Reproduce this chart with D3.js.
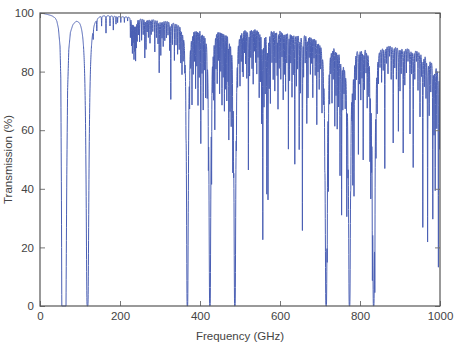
<!DOCTYPE html>
<html><head><meta charset="utf-8">
<script src="https://cdn.jsdelivr.net/npm/d3@7"></script>
<style>body{margin:0;background:#fff} text{font-family:"Liberation Sans",Arial,sans-serif;}</style>
</head><body><svg id="c" width="455" height="348"></svg>
<script>
const xTicks = [0, 200, 400, 600, 800, 1000];
const yTicks = [0, 20, 40, 60, 80, 100];

// continuum (upper envelope) of transmission, % vs GHz
const envFreq  = [0, 10, 20, 30, 38, 42, 46, 50, 52, 53.5, 54.5, 65, 67, 69, 72, 76, 82, 90, 100, 110, 125, 140, 150, 160, 180, 200, 230, 280, 320, 345, 360, 380, 400, 420, 440, 470, 500, 540, 570, 600, 640, 670, 700, 720, 740, 748, 760, 768, 780, 800, 825, 845, 880, 920, 960, 975, 990, 1000];
const envTrans = [100, 99.9, 99.6, 99.2, 98.5, 97.5, 95, 89, 78, 40, 0, 0, 45, 74, 88, 94, 96.8, 98.6, 99.6, 99.8, 100, 100, 100, 99.8, 99.4, 99, 98.8, 98.3, 97.9, 97.6, 97.6, 97.8, 97.6, 97.3, 97.2, 97, 96.8, 96.3, 95.8, 95.5, 94.8, 94, 93, 92, 91.3, 90, 86, 86, 89.5, 90.5, 90.3, 90.2, 89.7, 88.6, 87.2, 85.2, 84.5, 85.5];

// saturated oxygen lines (GHz) and their half widths (GHz)
const o2Freq  = [118.75, 368.5, 424.8, 487.2, 715.4, 773.8, 834.1];
const o2Width = [1.0, 0.65, 0.65, 0.65, 0.7, 0.7, 0.7];

// other absorption lines: centre (GHz) and minimum transmission (%)
const lineFreq = [
 133,142,154,165,175,183.3,190,194,202,211,219,
 226,229,231,233,235,237,239,241,243,246,249,254,258,262,265,268,271,275,278,282,287,291,295,298,
 302,305,308,312,316,320,324,327,331,336,340,344,348,352,355,358,362,365,
 371,374,377,380,383,386,389,392,395,398,402,405,408,411,414,418,421,
 429,432,434,437,440,443,446,449,452,455,458,461,464,467,470,472,475,478,482,484,
 491,494,497,500,503,506,508,511,514,517,521,524,527,530,533,536,539,542,545,548,551,554,557,560,563,567,570,573,576,
 580,583,587,590,593,595,598,602,605,608,611,614,617,621,624,627,630,633,637,641,644,648,651,656,659,663,667,670,673,676,679,
 682,685,688,692,695,698,701,705,709,712,
 718,721,724,727,730,733,737,740,743,746,750,754,757,760,763,767,770,
 777,780,782,785,788,791,796,799,802,805,808,811,815,818,822,825,827,829,831,837,
 840,843,846,850,854,858,862,866,870,874,878,883,887,891,896,900,903,908,912,916,920,925,929,933,937,941,945,950,954,957,
 961,965,969,973,977,982,985,988,992,996,999
];
const lineMin = [
 96.5,96,96.5,93.7,96,94.5,96.5,97,97,97,97.5,
 92,89.5,87,91,85,88,84.5,89,91,93,90.5,91,93,85,88,94,92,90,93,94,87,92,90,80,
 86,92,89,91,92,93,88,71,90,84.5,90,87,89,85,81.7,88,90,86,
 85,80,88,72,82,86,76,84,70,80,56.7,82,69,84,75,80,65.6,
 55.5,82,76,63,84,78,86,74,82,70,80,68,76,72,80,59,70,66,55.6,72,
 75,84,88,78,86,82,80,88,84,79,47,80,86,82,76.5,88,84,80,86,72,78,64,23,70,74,39,37,76,70,
 84,78,74,84,80,68,82,78,86,71,80,74,84,54,78,84,72,80,48.8,76,82,54,74,26,80,84,63,72,86,80,84,
 72,86,80,63,82,76,84,70,80,76,
 34,48,76,84,72,80,63,74,62,70,45.8,32,70,76,72,35,66,
 70,76,46,40,74,80,53,78,72,80,51,76,82,70,76,55,43,62,16,9,
 62,72,80,84,78,82,47.5,84,80,86,78,56,82,78,60,74,80,52.5,76,80,84,59,80,47.5,78,84,74,65,80,27,
 76,72,22,66,74,30,60,40,62,13.4,55
];

const W = 455, H = 348;
const x = d3.scaleLinear().domain([0, 1000]).range([40, 440]);
const y = d3.scaleLinear().domain([0, 100]).range([306, 13]);
const env = d3.scaleLinear().domain(envFreq).range(envTrans).clamp(true);

const lines = [];
o2Freq.forEach((f, i) => lines.push({f, w: o2Width[i], A: 12}));
lineFreq.forEach((f, i) => {
  const e = env(f), m = lineMin[i];
  if (m < e) lines.push({f, w: 0.35, A: Math.log(e / m)});
});

const freqs = d3.range(0, 1000.0001, 0.2).concat(lines.map(l => l.f)).sort((a, b) => a - b);
const data = freqs.map(f => {
  let tau = 0;
  for (const l of lines) {
    const d = f - l.f;
    tau += l.A * l.w * l.w / (d * d + l.w * l.w);
  }
  return [f, Math.max(0, Math.min(100, env(f) * Math.exp(-tau)))];
});

const svg = d3.select("#c");
svg.append("defs").append("clipPath").attr("id", "clip")
  .append("rect").attr("x", 40).attr("y", 12).attr("width", 400).attr("height", 295);

svg.append("path").datum(data)
  .attr("clip-path", "url(#clip)")
  .attr("fill", "none").attr("stroke", "#4a5fb4").attr("stroke-width", 1)
  .attr("d", d3.line().x(d => x(d[0])).y(d => y(d[1])));

const tickCol = "#777", txtCol = "#444", fs = "11.5px";
function style(g) {
  g.select(".domain").remove();
  g.selectAll(".tick line").attr("stroke", tickCol);
  g.selectAll("text").attr("fill", txtCol).style("font-size", fs);
}
const fmt = d3.format("d");
svg.append("g").attr("transform", "translate(0,306)")
  .call(d3.axisBottom(x).tickValues(xTicks).tickFormat(fmt).tickSizeInner(-5).tickSizeOuter(0).tickPadding(6)).call(style);
svg.append("g").attr("transform", "translate(0,13)")
  .call(d3.axisTop(x).tickValues(xTicks).tickSizeInner(-5).tickSizeOuter(0).tickFormat("")).call(style);
svg.append("g").attr("transform", "translate(40,0)")
  .call(d3.axisLeft(y).tickValues(yTicks).tickFormat(fmt).tickSizeInner(-5).tickSizeOuter(0).tickPadding(6)).call(style);
svg.append("g").attr("transform", "translate(440,0)")
  .call(d3.axisRight(y).tickValues(yTicks).tickSizeInner(-5).tickSizeOuter(0).tickFormat("")).call(style);

svg.append("rect").attr("x", 40).attr("y", 13).attr("width", 400).attr("height", 293)
  .attr("fill", "none").attr("stroke", "#555").attr("stroke-width", 1.2);

svg.append("text").attr("x", 240).attr("y", 340).attr("text-anchor", "middle")
  .attr("fill", txtCol).style("font-size", fs).text("Frequency (GHz)");
svg.append("text").attr("transform", "translate(12,159.5) rotate(-90)").attr("text-anchor", "middle")
  .attr("fill", txtCol).style("font-size", fs).text("Transmission (%)");
</script></body></html>
